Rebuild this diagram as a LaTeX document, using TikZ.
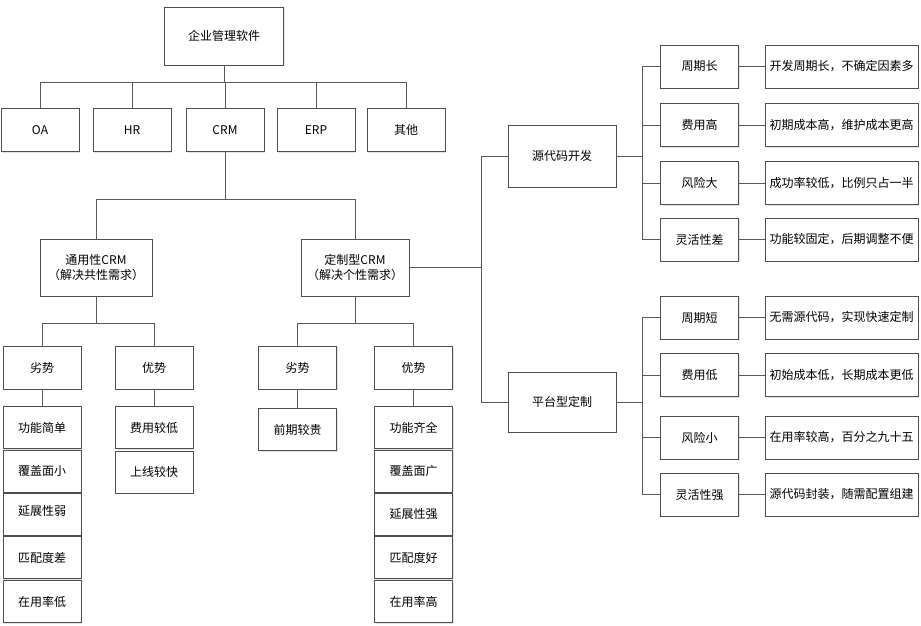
\documentclass[tikz,border=0pt]{standalone}
\usepackage{fontspec}
\newfontfamily\cjk{Noto Sans CJK SC}
\usetikzlibrary{positioning,shadows}
\definecolor{boxline}{HTML}{4E4E4E}
\definecolor{linegray}{HTML}{5A5A5A}
\tikzset{
  box/.style={draw=boxline,line width=0.8pt,fill=white,inner sep=0pt,align=center,
    font=\cjk\fontsize{12}{15}\selectfont,minimum width=78pt,minimum height=43pt,
    drop shadow={shadow xshift=1.2pt,shadow yshift=-1.2pt,fill=black!20}},
  item/.style={box,minimum height=42pt},
  wide/.style={box,minimum width=153pt},
  link/.style={draw=linegray,line width=0.8pt},
}
\begin{document}
\begin{tikzpicture}[x=1pt,y=-1pt]
  \useasboundingbox (0,0) rectangle (921,626);
  \node[box,minimum width=119pt,minimum height=58pt] (root) at (224,36) {企业管理软件};
  \node[box] (oa) at (40,130) {OA};
  \node[box] (hr) at (132,130) {HR};
  \node[box] (crm) at (225,130) {CRM};
  \node[box] (erp) at (316,130) {ERP};
  \node[box] (other) at (406,130) {其他};
  \foreach \n in {oa,hr,crm,erp,other} \draw[link] (root.south) -- ++(0,17) -| (\n.north);
  \node[box,minimum width=112pt,minimum height=57pt] (gen) at (96,267.5) {通用性CRM\\（解决共性需求）};
  \node[box,minimum width=108pt,minimum height=57pt] (cust) at (355,267.5) {定制型CRM\\（解决个性需求）};
  \draw[link] (crm.south) -- ++(0,47.5) -| (gen.north);
  \draw[link] (crm.south) -- ++(0,47.5) -| (cust.north);
  \node[box] (genbad) at (42,367.5) {劣势};
  \node[box] (gengood) at (154,367.5) {优势};
  \node[box] (custbad) at (297.5,367.5) {劣势};
  \node[box] (custgood) at (413.5,367.5) {优势};
  \draw[link] (gen.south) -- ++(0,27) -| (genbad.north);
  \draw[link] (gen.south) -- ++(0,27) -| (gengood.north);
  \draw[link] (cust.south) -- ++(0,27) -| (custbad.north);
  \draw[link] (cust.south) -- ++(0,27) -| (custgood.north);
  \node[item] (gb1) at (42,427.5) {功能简单};
  \node[item] (gb2) at (42,471) {覆盖面小};
  \node[item] (gb3) at (42,514) {\raisebox{7pt}{延展性弱}};
  \node[item] (gb4) at (42,557.5) {匹配度差};
  \node[item] (gb5) at (42,601.5) {在用率低};
  \node[item] (gg1) at (154,427.5) {费用较低};
  \node[item] (gg2) at (154,472) {上线较快};
  \node[item] (cb1) at (297.5,429.5) {前期较贵};
  \node[item] (cg1) at (413.5,427.5) {功能齐全};
  \node[item] (cg2) at (413.5,471) {覆盖面广};
  \node[item] (cg3) at (413.5,514) {延展性强};
  \node[item] (cg4) at (413.5,557.5) {匹配度好};
  \node[item] (cg5) at (413.5,601.5) {在用率高};
  \draw[link] (genbad) -- (gb1);
  \draw[link] (gengood) -- (gg1);
  \draw[link] (custbad) -- (cb1);
  \draw[link] (custgood) -- (cg1);
  \node[box,minimum width=108pt,minimum height=62pt] (src) at (562,156) {源代码开发};
  \node[box,minimum width=108pt,minimum height=60pt] (plat) at (562,402) {平台型定制};
  \draw[link] (cust.east) -- ++(72,0) |- (src.west);
  \draw[link] (cust.east) -- ++(72,0) |- (plat.west);
  \node[box] (s1) at (699.5,66.5) {周期长};
  \node[box] (s2) at (699.5,125) {费用高};
  \node[box] (s3) at (699.5,183) {风险大};
  \node[box] (s4) at (699.5,239.5) {灵活性差};
  \node[box] (p1) at (699.5,317.5) {周期短};
  \node[box] (p2) at (699.5,375) {费用低};
  \node[box] (p3) at (699.5,437.5) {风险小};
  \node[box] (p4) at (699.5,494.5) {灵活性强};
  \node[wide] (s1-txt) at (841.5,66.5) {开发周期长，不确定因素多};
  \node[wide] (s2-txt) at (841.5,125) {初期成本高，维护成本更高};
  \node[wide] (s3-txt) at (841.5,183) {成功率较低，比例只占一半};
  \node[wide] (s4-txt) at (841.5,239.5) {功能较固定，后期调整不便};
  \node[wide] (p1-txt) at (841.5,317.5) {无需源代码，实现快速定制};
  \node[wide] (p2-txt) at (841.5,375) {初始成本低，长期成本更低};
  \node[wide] (p3-txt) at (841.5,437.5) {在用率较高，百分之九十五};
  \node[wide] (p4-txt) at (841.5,494.5) {源代码封装，随需配置组建};
  \foreach \n in {s1,s2,s3,s4} \draw[link] (src.east) -- ++(26,0) |- (\n.west);
  \foreach \n in {p1,p2,p3,p4} \draw[link] (plat.east) -- ++(26,0) |- (\n.west);
  \foreach \n in {s1,s2,s3,s4,p1,p2,p3,p4} \draw[link] (\n.east) -- (\n-txt.west);
\end{tikzpicture}
\end{document}
